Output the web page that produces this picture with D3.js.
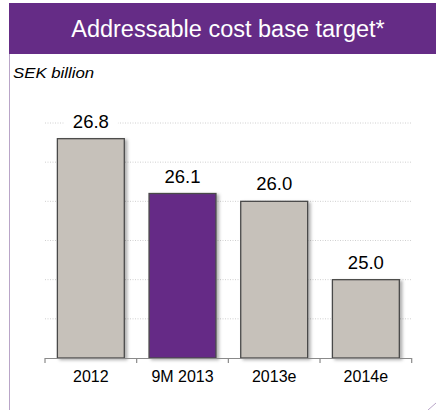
<!DOCTYPE html>
<html>
<head>
<meta charset="utf-8">
<script src="https://cdn.jsdelivr.net/npm/d3@7"></script>
<style>
  body { margin: 0; background: #fff; }
  text { font-family: 'Liberation Sans', Arial, sans-serif; }
</style>
</head>
<body>
<div id="chart"></div>
<script>
var categories = ['2012', '9M 2013', '2013e', '2014e']
var values = [26.8, 26.1, 26.0, 25.0]
var highlight = ['9M 2013']
var gridValues = [24.5, 25, 25.5, 26, 26.5, 27]

var width = 436
var height = 410

var svg = d3
  .select('#chart')
  .append('svg')
  .attr('width', width)
  .attr('height', height)

var defs = svg.append('defs')
var shadow = defs.append('filter').attr('id', 'shadow')
  .attr('x', '-20%').attr('y', '-20%').attr('width', '140%').attr('height', '140%')
shadow.append('feDropShadow')
  .attr('dx', 2.5).attr('dy', 1.5).attr('stdDeviation', 1.5)
  .attr('flood-color', '#000').attr('flood-opacity', 0.3)

// header band
svg.append('rect')
  .attr('x', 9).attr('y', 3)
  .attr('width', width - 9).attr('height', 51)
  .attr('fill', '#652c86')

svg.append('text')
  .text('Addressable cost base target*')
  .attr('x', 228).attr('y', 37)
  .attr('text-anchor', 'middle')
  .attr('font-size', 23.5)
  .attr('fill', '#fff')

// frame line on the left and the corner at bottom right
svg.append('line')
  .attr('x1', 9.5).attr('x2', 9.5)
  .attr('y1', 54).attr('y2', height)
  .attr('stroke', '#b9a5c8').attr('stroke-width', 1)
svg.append('line')
  .attr('x1', 428).attr('y1', 410)
  .attr('x2', 436).attr('y2', 403)
  .attr('stroke', '#b9a5c8').attr('stroke-width', 1)

svg.append('text')
  .text('SEK billion')
  .attr('transform', 'translate(13,78) scale(1.2,1)')
  .attr('font-size', 14)
  .attr('font-style', 'italic')
  .attr('fill', '#000')

var xPositionScale = d3.scaleBand()
  .domain(categories)
  .range([45, 411.7])
  .paddingInner(0.27)
  .paddingOuter(0.135)

var yPositionScale = d3.scaleLinear()
  .domain([24, 27])
  .range([358, 123])

// gridlines
svg.selectAll('.grid')
  .data(gridValues)
  .enter()
  .append('line')
  .attr('class', 'grid')
  .attr('x1', 45).attr('x2', 411.7)
  .attr('y1', function(d) { return yPositionScale(d) })
  .attr('y2', function(d) { return yPositionScale(d) })
  .attr('stroke', '#d0d0d0')
  .attr('stroke-width', 1)
  .attr('stroke-dasharray', '1,1.5')

// bars
svg.selectAll('.bar')
  .data(values)
  .enter()
  .append('rect')
  .attr('class', 'bar')
  .attr('x', function(d, i) { return xPositionScale(categories[i]) })
  .attr('y', function(d) { return yPositionScale(d) })
  .attr('width', xPositionScale.bandwidth())
  .attr('height', function(d) { return yPositionScale(24) - yPositionScale(d) })
  .attr('fill', function(d, i) {
    return highlight.indexOf(categories[i]) >= 0 ? '#652c86' : '#c6c1ba'
  })
  .attr('stroke', '#4a4a4a')
  .attr('stroke-width', 1.3)
  .attr('filter', 'url(#shadow)')

// value labels with white backing over the gridlines
var labels = svg.selectAll('.value')
  .data(values)
  .enter()
  .append('g')
  .attr('class', 'value')
  .attr('transform', function(d, i) {
    var cx = xPositionScale(categories[i]) + xPositionScale.bandwidth() / 2
    return 'translate(' + cx + ',' + (yPositionScale(d) - 11) + ')'
  })
labels.append('rect')
  .attr('x', -27).attr('y', -16)
  .attr('width', 54).attr('height', 20)
  .attr('fill', '#fff')
labels.append('text')
  .text(function(d) { return d3.format('.1f')(d) })
  .attr('text-anchor', 'middle')
  .attr('font-size', 18.5)
  .attr('fill', '#000')

// x axis
var step = xPositionScale.step()
var tickXs = categories.map(function(c) {
  return xPositionScale(c) - step * xPositionScale.paddingInner() / 2
})
tickXs.push(xPositionScale.range()[1])

svg.append('line')
  .attr('x1', 45).attr('x2', 411.7)
  .attr('y1', 358.5).attr('y2', 358.5)
  .attr('stroke', '#8a8a8a')
  .attr('stroke-width', 1.2)

svg.selectAll('.tick')
  .data(tickXs)
  .enter()
  .append('line')
  .attr('class', 'tick')
  .attr('x1', function(d) { return d }).attr('x2', function(d) { return d })
  .attr('y1', 358).attr('y2', 363)
  .attr('stroke', '#8a8a8a')
  .attr('stroke-width', 1.2)

svg.selectAll('.cat')
  .data(categories)
  .enter()
  .append('text')
  .attr('class', 'cat')
  .text(function(d) { return d })
  .attr('x', function(d) { return xPositionScale(d) + xPositionScale.bandwidth() / 2 })
  .attr('y', 382)
  .attr('text-anchor', 'middle')
  .attr('font-size', 16)
  .attr('fill', '#000')
</script>
</body>
</html>
